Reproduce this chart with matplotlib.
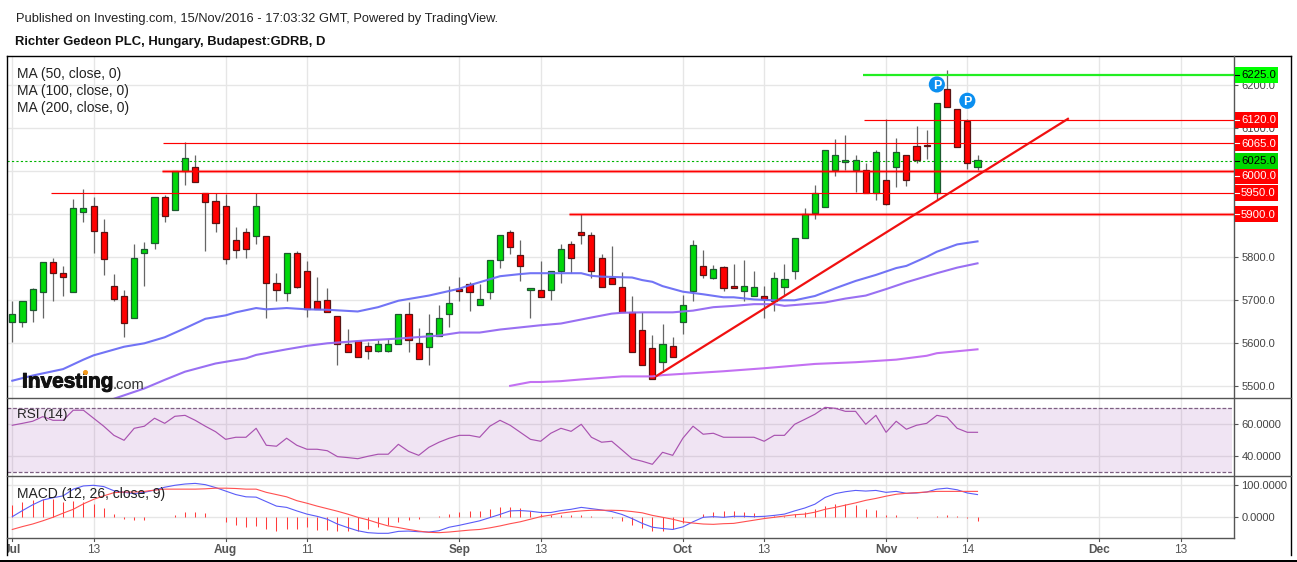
import matplotlib
matplotlib.use('Agg')
import matplotlib.pyplot as plt
import matplotlib.patheffects as pe

plt.rcParams['font.family'] = ['Liberation Sans', 'DejaVu Sans']

W, H = 1297, 562

# candles
opens = [5650, 5649, 5677, 5719, 5788, 5763, 5719, 5906, 5919, 5860, 5733, 5709, 5658, 5809, 5834, 5940,
         5909, 6000, 6009, 5950, 5930, 5919, 5840, 5858, 5849, 5849, 5740, 5716, 5809, 5767, 5698, 5700,
         5663, 5598, 5605, 5593, 5583, 5583, 5598, 5667, 5600, 5592, 5618, 5667, 5726, 5739, 5688, 5719,
         5793, 5858, 5805, 5723, 5725, 5723, 5767, 5832, 5858, 5853, 5798, 5753, 5732, 5672, 5630, 5588,
         5557, 5593, 5649, 5721, 5779, 5753, 5777, 5733, 5721, 5709, 5709, 5698, 5732, 5767, 5844, 5904,
         5918, 6002, 6021, 6002, 6002, 5949, 5979, 6009, 6037, 6060, 6060, 5949, 6191, 6144, 6116, 6009]
highs = [5699, 5698, 5728, 5788, 5798, 5780, 5936, 5959, 5940, 5889, 5761, 5724, 5831, 5836, 5940, 5945,
         6000, 6067, 6038, 5950, 5950, 5947, 5871, 5868, 5950, 5849, 5764, 5809, 5814, 5791, 5754, 5729,
         5663, 5633, 5605, 5602, 5607, 5609, 5667, 5696, 5636, 5668, 5689, 5733, 5754, 5742, 5738, 5793,
         5853, 5863, 5840, 5728, 5791, 5767, 5832, 5839, 5900, 5858, 5807, 5826, 5765, 5709, 5672, 5619,
         5645, 5615, 5712, 5840, 5817, 5781, 5780, 5784, 5794, 5768, 5733, 5766, 5784, 5844, 5914, 5967,
         6049, 6075, 6084, 6039, 6019, 6049, 6121, 6077, 6037, 6105, 6096, 6160, 6236, 6146, 6121, 6039]
lows = [5603, 5639, 5650, 5660, 5699, 5710, 5719, 5883, 5811, 5760, 5699, 5615, 5658, 5734, 5819, 5881,
        5909, 5967, 5976, 5815, 5860, 5785, 5799, 5799, 5831, 5660, 5699, 5699, 5728, 5662, 5679, 5672,
        5550, 5579, 5567, 5563, 5580, 5580, 5598, 5580, 5563, 5550, 5618, 5639, 5699, 5674, 5688, 5704,
        5776, 5808, 5746, 5660, 5708, 5701, 5741, 5763, 5830, 5751, 5730, 5739, 5672, 5579, 5549, 5516,
        5534, 5567, 5622, 5699, 5752, 5750, 5722, 5728, 5699, 5709, 5660, 5676, 5712, 5750, 5844, 5888,
        5918, 5990, 6002, 5951, 5949, 5933, 5921, 5964, 5966, 6019, 6028, 5933, 6149, 6056, 6005, 6002]
closes = [5667, 5698, 5726, 5788, 5763, 5755, 5914, 5914, 5862, 5797, 5704, 5648, 5798, 5819, 5940, 5897,
          6000, 6030, 5976, 5929, 5879, 5795, 5816, 5819, 5919, 5740, 5723, 5809, 5730, 5679, 5679, 5672,
          5598, 5579, 5567, 5583, 5598, 5598, 5667, 5608, 5563, 5625, 5658, 5693, 5721, 5719, 5702, 5793,
          5853, 5823, 5779, 5728, 5708, 5767, 5819, 5798, 5853, 5767, 5730, 5739, 5672, 5579, 5549, 5516,
          5598, 5567, 5688, 5828, 5760, 5772, 5728, 5728, 5733, 5730, 5702, 5751, 5749, 5844, 5900, 5949,
          6049, 6039, 6026, 6026, 5949, 6044, 5923, 6046, 5979, 6026, 6059, 6160, 6149, 6056, 6019, 6026]

ma50_x = [0, 2, 5, 7, 8, 11, 13, 15, 17, 19, 21, 22, 24, 25, 27, 29, 31, 34, 36, 38, 41, 44, 45, 47, 48, 50, 51,
          53, 56, 57, 58, 61, 62, 63, 64, 66, 68, 70, 71, 73, 75, 77, 79, 81, 83, 85, 87, 88, 90, 91, 93, 95]
ma50_y = [5513, 5525, 5540, 5562, 5572, 5592, 5600, 5614, 5635, 5657, 5665, 5672, 5682, 5679, 5682, 5679, 5678,
          5674, 5684, 5699, 5711, 5727, 5735, 5749, 5756, 5761, 5763, 5763, 5763, 5757, 5755, 5753, 5747, 5743,
          5733, 5720, 5714, 5707, 5707, 5702, 5700, 5700, 5710, 5728, 5745, 5759, 5775, 5780, 5801, 5813, 5830, 5837]
ma100_x = [9, 10, 13, 15, 17, 20, 23, 24, 27, 29, 31, 35, 38, 42, 44, 46, 48, 52, 54, 57, 59, 60, 62, 65, 67, 69,
           71, 73, 75, 76, 78, 80, 82, 84, 86, 88, 91, 93, 95]
ma100_y = [5462, 5471, 5495, 5515, 5534, 5553, 5565, 5573, 5586, 5594, 5600, 5607, 5611, 5618, 5625, 5625, 5632,
           5642, 5646, 5660, 5669, 5671, 5672, 5672, 5676, 5684, 5687, 5691, 5691, 5687, 5691, 5695, 5704, 5711,
           5726, 5742, 5763, 5776, 5786]
ma200_x = [49, 51, 52, 54, 56, 60, 63, 64, 68, 70, 74, 79, 83, 87, 90, 91, 95]
ma200_y = [5501, 5510, 5510, 5512, 5516, 5523, 5523, 5526, 5532, 5535, 5542, 5552, 5556, 5562, 5571, 5577, 5586]

rsi = [59.4, 60.6, 61.9, 64.8, 62.5, 62.5, 68.8, 68.8, 63.8, 58.8, 53.1, 50, 57.5, 58.8, 63.8, 60.6,
       65, 65.6, 62.5, 58.8, 55.4, 50.6, 51.9, 51.9, 57.5, 46.9, 46.3, 51.3, 46.9, 44.4, 44.4, 43.5,
       39.8, 39.2, 38.5, 40, 41.3, 41.3, 47.5, 43.1, 40.6, 45.6, 48.8, 51.3, 53.1, 53.1, 51.9, 58.8,
       62.5, 59.4, 55, 50.6, 49.4, 54.4, 57.5, 55.6, 60, 51.9, 48.8, 49.4, 44, 38.5, 36.9, 35,
       42.5, 40.6, 51.3, 58.8, 53.8, 54.4, 51.9, 51.9, 51.9, 51.9, 49.4, 53.1, 53.1, 60, 63.1, 66.3,
       70.6, 70, 68.1, 68.1, 60, 65.6, 55, 61.9, 56.9, 59.4, 60.6, 65.6, 64.4, 57.5, 55, 55]

macd = [2, 21, 39, 54, 61, 67, 88, 98, 100, 96, 83, 78, 74, 78, 85, 94,
        100, 104, 106, 102, 93, 82, 71, 64, 63, 49, 35, 31, 20, 10, 3, -6,
        -21, -32, -42, -48, -50, -50, -44, -43, -45, -46, -42, -31, -25, -18, -11, -1,
        9, 20, 21, 19, 15, 15, 21, 25, 31, 27, 23, 18, 9, -4, -19, -31,
        -35, -38, -30, -14, 0, 2, 0, 3, 3, 2, 3, 6, 10, 20, 29, 41,
        62, 74, 80, 84, 82, 84, 78, 81, 75, 76, 79, 88, 91, 86, 76, 71]
signal = [-38, -29, -21, -11, 0, 13, 25, 42, 56, 67, 77, 79, 79, 81, 85, 88,
          88, 88, 88, 89, 91, 91, 90, 88, 88, 78, 71, 64, 52, 44, 35, 27,
          19, 10, 0, -8, -18, -27, -32, -38, -43, -47, -48, -46, -43, -40, -38, -33,
          -27, -20, -14, -6, 2, 7, 13, 17, 20, 22, 22, 22, 21, 18, 14, 6,
          0, -6, -14, -18, -21, -22, -20, -19, -14, -9, -4, 0, 4, 8, 10, 16,
          25, 31, 38, 45, 53, 59, 66, 72, 75, 77, 79, 81, 81, 81, 81, 81]
hist = [39, 48, 54, 57, 58, 48, 51, 48, 42, 29, 10, -6, -9, -9, 0, 0,
        7, 17, 17, 14, 1, -14, -23, -29, -26, -35, -42, -35, -35, -29, -39, -39,
        -42, -42, -42, -35, -29, -23, -14, -9, -6, 0, 3, 10, 17, 20, 20, 26,
        32, 32, 29, 20, 10, 7, 7, 7, 7, 3, 0, -3, -10, -23, -32, -42,
        -42, -35, -19, 0, 10, 17, 20, 20, 17, 14, 5, 5, 3, 10, 17, 26,
        35, 42, 42, 39, 26, 23, 7, 7, 0, -3, 0, 4, 7, 4, -3, -10]

# levels drawn on the chart: price, first bar, thick or not
level_price = [6120, 6065, 6000, 5950, 5900]
level_start = [83.8, 14.8, 14.7, 3.8, 54.8]
level_thick = [False, False, True, False, True]
green_level = 6225
green_start = 83.7
last_price = 6025
trend_x = [63.4, 103.9]
trend_y = [5524, 6122]
event_x = [91, 94]
event_y = [6202, 6164]

price_ticks = [5500, 5600, 5700, 5800, 5900, 6000, 6100, 6200]
rsi_ticks = [40, 60]
macd_ticks = [0, 100]
time_pos = [0, 8, 21, 29, 44, 52, 66, 74, 86, 94, 107, 115]
time_labels = ['Jul', '13', 'Aug', '11', 'Sep', '13', 'Oct', '13', 'Nov', '14', 'Dec', '13']
time_bold = ['Jul', 'Aug', 'Sep', 'Oct', 'Nov', 'Dec']

GRID = '#e6e6e6'
FRAME = '#555555'
LEFT, RIGHT = 6.5, 1234.3
X0, DX = 12.3, 10.16   # first bar pixel, pixels per bar
xlim = ((LEFT - X0) / DX, (RIGHT - X0) / DX)


def pane(top, bottom, ylim):
    ax = fig.add_axes([LEFT / W, 1 - bottom / H, (RIGHT - LEFT) / W, (bottom - top) / H])
    ax.set_xlim(xlim)
    ax.set_ylim(ylim)
    ax.set_xticks(time_pos)
    ax.tick_params(axis='x', length=0, labelbottom=False)
    ax.yaxis.tick_right()
    ax.tick_params(axis='y', length=3.2, width=0.8, color=FRAME, labelsize=8.0, labelcolor='#444444', pad=2)
    ax.grid(True, color=GRID, lw=1.0)
    ax.set_axisbelow(True)
    for s in ax.spines.values():
        s.set_visible(False)
    return ax


fig = plt.figure(figsize=(W / 100, H / 100), dpi=100)

# y limits worked out from the gridline pixels
ax = pane(56, 398, (5500 - (398 - 386.3) / 0.43, 5500 + (386.3 - 56) / 0.43))
ax.set_yticks(price_ticks)
# 5900 and 6000 sit under the level boxes in the picture
ax.set_yticklabels(['' if t in (5900, 6000) else '%.1f' % t for t in price_ticks])

for i in range(len(opens)):
    up = closes[i] >= opens[i]
    ax.plot([i, i], [lows[i], highs[i]], color='#666666', lw=0.9, zorder=2, solid_capstyle='butt')
    ax.bar(i, max(abs(closes[i] - opens[i]), 1.5), bottom=min(opens[i], closes[i]), width=0.6,
           color='#00d80a' if up else '#ff0000', edgecolor='#1d5a30' if up else '#5a1414', lw=0.9, zorder=3)

ax.plot(ma50_x, ma50_y, color='#6a6cf5', lw=1.5, alpha=0.95, zorder=4)
ax.plot(ma100_x, ma100_y, color='#9468f2', lw=1.5, alpha=0.95, zorder=4)
ax.plot(ma200_x, ma200_y, color='#c069f2', lw=1.5, alpha=0.95, zorder=4)

ax.axhline(last_price, color='#00b400', lw=0.8, ls=(0, (2, 2)), zorder=2)
for p, s, thick in zip(level_price, level_start, level_thick):
    if thick:
        ax.plot([s, xlim[1]], [p, p], color='#ff0000', lw=2.3, alpha=0.4, zorder=5, solid_capstyle='butt')
    ax.plot([s, xlim[1]], [p, p], color='#ff0000', lw=0.85, zorder=5, solid_capstyle='butt')
ax.plot([green_start, xlim[1]], [green_level, green_level], color='#22ee22', lw=1.6, zorder=5, solid_capstyle='butt')
ax.plot(trend_x, trend_y, color='#f01010', lw=1.6, zorder=5)

ax.scatter(event_x, event_y, s=135, color='#0b8ff0', edgecolor='none', zorder=6)
for ex, ey in zip(event_x, event_y):
    ax.text(ex, ey, 'P', color='white', fontsize=9, fontweight='bold', ha='center', va='center_baseline', zorder=7)

for label, top in zip(['MA (50, close, 0)', 'MA (100, close, 0)', 'MA (200, close, 0)'], [74.2, 91.2, 108.2]):
    fig.text(17 / W, 1 - top / H, label, fontsize=10, color='#222222', va='center')

# logo
fig.text(22 / W, 1 - 382 / H, 'Investing', fontsize=15, fontweight='bold', color='#111111', va='center', zorder=8,
         path_effects=[pe.withStroke(linewidth=0.7, foreground='#111111')])
fig.text(112.5 / W, 1 - 385 / H, '.com', fontsize=10.5, color='#333333', va='center', zorder=8)

# RSI
ax2 = pane(398, 476, (40 - (476 - 456.3) / 1.6, 60 + (424.3 - 398) / 1.6))
ax2.set_yticks(rsi_ticks)
ax2.set_yticklabels(['%.4f' % t for t in rsi_ticks])
ax2.axhspan(30, 70, xmax=0.9985, color='#a860b8', alpha=0.17, lw=0, zorder=1.5)
ax2.plot([xlim[0], xlim[1] - 0.15], [70, 70], color='#7d5f82', lw=0.9, ls=(0, (3, 1.5)))
ax2.plot([xlim[0], xlim[1] - 0.15], [30, 30], color='#7d5f82', lw=0.9, ls=(0, (3, 1.5)))
ax2.plot(range(len(rsi)), rsi, color='#a952b0', lw=0.85, zorder=4)
fig.text(17 / W, 1 - 415.2 / H, 'RSI (14)', fontsize=9.7, color='#222222', va='center', zorder=8)

# MACD
ax3 = pane(476, 538.3, (-(538.3 - 517.3) / 0.32, (517.3 - 476) / 0.32))
ax3.set_yticks(macd_ticks)
ax3.set_yticklabels(['%.4f' % t for t in macd_ticks])
ax3.vlines(range(len(hist)), 0, hist, color='#ff3b3b', lw=0.75, zorder=3)
ax3.plot(range(len(macd)), macd, color='#5a5cf8', lw=0.8, zorder=4)
ax3.plot(range(len(signal)), signal, color='#ff5050', lw=0.8, zorder=5)
fig.text(17 / W, 1 - 494 / H, 'MACD (12, 26, close, 9)', fontsize=10, color='#222222', va='center', zorder=8)

# time axis
ax4 = fig.add_axes([LEFT / W, 1 - 560 / H, (RIGHT - LEFT) / W, (560 - 538.3) / H])
ax4.set_xlim(xlim)
ax4.set_ylim(0, 1)
ax4.axis('off')
for pos, lab in zip(time_pos, time_labels):
    ax4.plot([pos, pos], [1, 0.86], color=FRAME, lw=0.8)
    ax4.text(pos, 0.48, lab, ha='center', va='center', fontsize=8.6, color='#555555',
             fontweight='bold' if lab in time_bold else 'normal', clip_on=True)

# frame, in pixels
fr = fig.add_axes([0, 0, 1, 1], zorder=20)
fr.set_xlim(0, W)
fr.set_ylim(H, 0)
fr.axis('off')
fr.plot([LEFT, 1291], [56, 56], color='black', lw=1.0)
fr.plot([LEFT, LEFT], [56, 555], color='black', lw=1.0)
fr.plot([1291, 1291], [56, 555], color='black', lw=1.0)
fr.plot([LEFT, 1291], [398.3, 398.3], color=FRAME, lw=1.0)
fr.plot([LEFT, 1291], [476.3, 476.3], color=FRAME, lw=1.0)
fr.plot([LEFT, RIGHT], [538.3, 538.3], color=FRAME, lw=1.0)
fr.plot([RIGHT, RIGHT], [56, 538.3], color=FRAME, lw=1.0)
fr.fill_between([0, W], 560, 562, color='black', lw=0)
# orange dot of the logo
fr.scatter([85], [372], s=7, color='#f39a1e', zorder=5)

# price boxes on the axis; the 6000 box is pushed down off the 6025 one
for p in level_price + [green_level, last_price]:
    if p == green_level:
        bg, fg = '#00ff00', 'black'
    elif p == last_price:
        bg, fg = '#00d800', 'black'
    else:
        bg, fg = '#ff0000', 'white'
    py = 386.3 - (p - 5500) * 0.43
    cy = py + 4.8 if p == 6000 else py
    fr.fill_between([RIGHT + 0.5, 1278], cy - 8, cy + 8, color=bg, lw=0, zorder=3)
    fr.plot([RIGHT + 1, RIGHT + 5], [cy, cy], color=fg, lw=0.8, zorder=4)
    fr.text(1241, cy + 0.3, '%.1f' % p, color=fg, fontsize=8.2, ha='left', va='center', zorder=4)

fig.text(16 / W, 1 - 19 / H, 'Published on Investing.com, 15/Nov/2016 - 17:03:32 GMT, Powered by TradingView.',
         fontsize=9.3, color='#222222', va='center')
fig.text(15 / W, 1 - 42 / H, 'Richter Gedeon PLC, Hungary, Budapest:GDRB, D',
         fontsize=9.4, fontweight='bold', color='#111111', va='center')

fig.savefig('out.png', dpi=100)
